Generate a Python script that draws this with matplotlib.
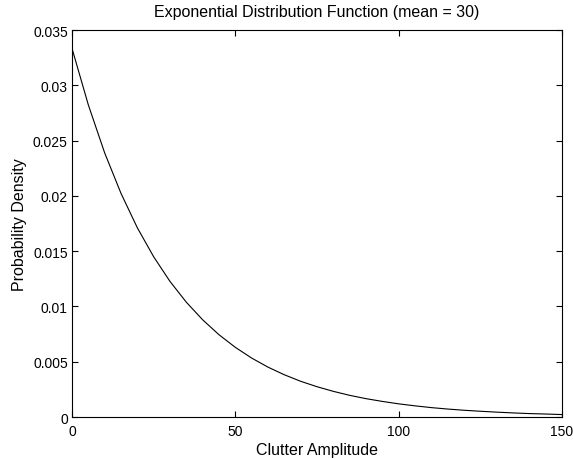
import matplotlib
matplotlib.use("Agg")
import matplotlib.pyplot as plt

# values
amplitude = [0, 5, 10, 15, 20, 25, 30, 35, 40, 45, 50, 55, 60, 65, 70, 75,
             80, 85, 90, 95, 100, 105, 110, 115, 120, 125, 130, 135, 140, 145, 150]
density = [0.03333, 0.02822, 0.02388, 0.02022, 0.01711, 0.01449, 0.01226,
           0.01038, 0.00879, 0.00744, 0.00630, 0.00533, 0.00451, 0.00382,
           0.00323, 0.00274, 0.00232, 0.00196, 0.00166, 0.00141, 0.00119,
           0.00101, 0.00085, 0.00072, 0.00061, 0.00052, 0.00044, 0.00037,
           0.00031, 0.00027, 0.00022]
xticks = [0, 50, 100, 150]
yticks = [0, 0.005, 0.01, 0.015, 0.02, 0.025, 0.03, 0.035]
yticklabels = ["0", "0.005", "0.01", "0.015", "0.02", "0.025", "0.03", "0.035"]

plt.rcParams["font.family"] = ["Liberation Sans", "DejaVu Sans"]

fig = plt.figure(figsize=(5.73, 4.6), dpi=100)
ax = fig.add_axes([0.1257, 0.0913, 0.855, 0.8413])
ax.plot(amplitude, density, color="black", linewidth=0.8)
ax.set_xlim(0, 150)
ax.set_ylim(0, 0.035)
ax.set_xticks(xticks)
ax.set_yticks(yticks)
ax.set_yticklabels(yticklabels)
ax.tick_params(direction="in", length=4, width=0.8, right=True, top=True,
               labelsize=10, pad=3)
ax.tick_params(axis="x", pad=5)
for s in ax.spines.values():
    s.set_linewidth(0.8)
ax.set_title("Exponential Distribution Function (mean = 30)", fontsize=11.5, pad=10)
ax.set_xlabel("Clutter Amplitude", fontsize=11.5, labelpad=3)
ax.set_ylabel("Probability Density", fontsize=11.5, labelpad=4)
fig.savefig("out.png", dpi=100)
